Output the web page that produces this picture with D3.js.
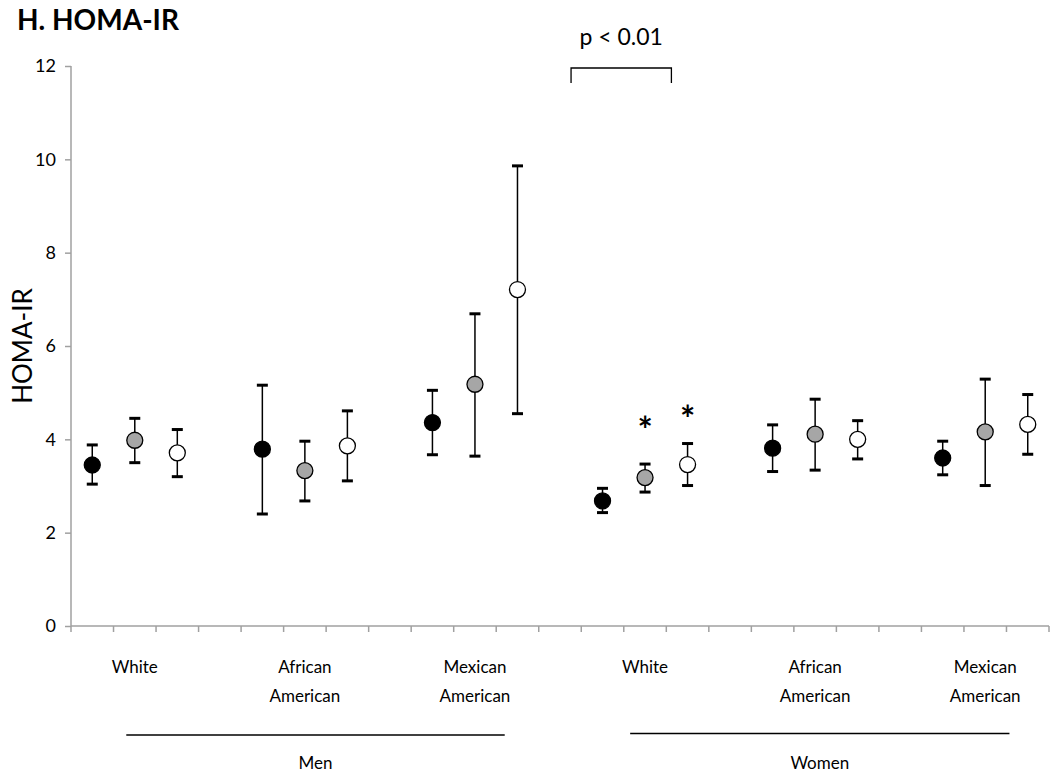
<!DOCTYPE html>
<html><head><meta charset="utf-8">
<script src="https://cdn.jsdelivr.net/npm/d3@7"></script>
<style>body{margin:0;background:#fff}svg{display:block}text{font-family:Lato,"Open Sans",sans-serif}</style>
</head><body>
<svg id="c" width="1050" height="774"></svg>
<script>
// Data
const slots = ["MW-1","MW-2","MW-3","gap1","MA-1","MA-2","MA-3","gap2","MM-1","MM-2","MM-3","gap3",
               "WW-1","WW-2","WW-3","gap4","WA-1","WA-2","WA-3","gap5","WM-1","WM-2","WM-3"];
const pointSlots = ["MW-1","MW-2","MW-3","MA-1","MA-2","MA-3","MM-1","MM-2","MM-3",
                    "WW-1","WW-2","WW-3","WA-1","WA-2","WA-3","WM-1","WM-2","WM-3"];
const fills = ["#000000","#a6a6a6","#ffffff"];
const means = [3.45,3.98,3.71, 3.79,3.33,3.86, 4.36,5.18,7.21, 2.68,3.18,3.46, 3.81,4.11,4.00, 3.60,4.16,4.32];
const upper = [3.88,4.45,4.21, 5.16,3.96,4.61, 5.05,6.69,9.86, 2.95,3.47,3.91, 4.31,4.86,4.40, 3.96,5.29,4.96];
const lower = [3.04,3.50,3.20, 2.40,2.68,3.11, 3.67,3.64,4.55, 2.43,2.87,3.01, 3.31,3.34,3.58, 3.24,3.01,3.68];
const groupLabels = [["White"],["African","American"],["Mexican","American"],["White"],["African","American"],["Mexican","American"]];
const groupLabelSlots = ["MW-2","MA-2","MM-2","WW-2","WA-2","WM-2"];
const sexLabels = ["Men","Women"];
const sexSpan = [[1.3,10.2],[13.15,22.07]];   // in slot units
const starSlots = ["WW-2","WW-3"];
const starValues = [4.3,4.55];
const bracketSpan = [11.76,14.12];            // in slot units
const yTicks = [0,2,4,6,8,10,12];

const W=1050,H=774, m={l:71,t:66,r:1,b:148};
const svg=d3.select("#c");
const x=d3.scaleBand().domain(slots).range([m.l,W-m.r]).padding(0);
const xs=d3.scaleLinear().domain([0,slots.length]).range([m.l,W-m.r]);
const y=d3.scaleLinear().domain([0,12]).range([H-m.b,m.t]);
const axisColor="#a0a0a0";

// y axis
const ya=svg.append("g").attr("transform",`translate(${m.l},0)`)
  .call(d3.axisLeft(y).tickValues(yTicks).tickSize(6).tickPadding(9).tickFormat(d3.format("d")));
ya.select(".domain").attr("stroke",axisColor).attr("stroke-width",1.5).attr("d",`M0,${y(12)}V${y(0)}`);
ya.selectAll(".tick line").attr("stroke",axisColor).attr("stroke-width",1.5);
ya.selectAll(".tick text").attr("font-size",18).attr("fill","#000").style("font-family","Lato,sans-serif");

// x axis with ticks at band boundaries
const xa=svg.append("g").attr("transform",`translate(0,${y(0)})`);
xa.append("line").attr("x1",m.l).attr("x2",W-m.r).attr("stroke",axisColor).attr("stroke-width",1.5);
const bounds=slots.map(s=>x(s)).concat([x(slots[slots.length-1])+x.bandwidth()]);
xa.selectAll("line.t").data(bounds).join("line").attr("class","t")
  .attr("x1",d=>d).attr("x2",d=>d).attr("y1",0).attr("y2",6).attr("stroke",axisColor).attr("stroke-width",1.5);

// group labels
groupLabels.forEach((lines,i)=>{
  const cx=x(groupLabelSlots[i])+x.bandwidth()/2;
  const t=svg.append("text").attr("x",cx).attr("y",673).attr("text-anchor","middle").attr("font-size",17);
  lines.forEach((l,j)=>t.append("tspan").attr("x",cx).attr("dy",j?29:0).text(l));
});
// sex lines & labels
sexSpan.forEach((sp,i)=>{
  const x1=xs(sp[0]), x2=xs(sp[1]);
  svg.append("line").attr("x1",x1).attr("x2",x2).attr("y1",735-i*1.5).attr("y2",735-i*1.5).attr("stroke","#000").attr("stroke-width",1.3);
  svg.append("text").attr("x",(x1+x2)/2).attr("y",769).attr("text-anchor","middle").attr("font-size",17).text(sexLabels[i]);
});

// error bars and points
const g=svg.append("g");
pointSlots.forEach((s,i)=>{
  const cx=x(s)+x.bandwidth()/2;
  g.append("line").attr("x1",cx).attr("x2",cx).attr("y1",y(upper[i])).attr("y2",y(lower[i])).attr("stroke","#000").attr("stroke-width",1.5);
  [upper[i],lower[i]].forEach(v=>g.append("line").attr("x1",cx-5.5).attr("x2",cx+5.5).attr("y1",y(v)).attr("y2",y(v)).attr("stroke","#000").attr("stroke-width",3));
  g.append("circle").attr("cx",cx).attr("cy",y(means[i])).attr("r",8).attr("fill",fills[i%3]).attr("stroke","#000").attr("stroke-width",1.3);
});

// stars
starSlots.forEach((s,i)=>{
  svg.append("text").attr("x",x(s)+x.bandwidth()/2).attr("y",y(starValues[i])+18).attr("text-anchor","middle")
    .attr("font-size",36).attr("font-weight","bold").text("*");
});

// bracket
const bx1=xs(bracketSpan[0]), bx2=xs(bracketSpan[1]);
svg.append("path").attr("d",`M${bx1},83V68H${bx2}V83`).attr("fill","none").attr("stroke","#000").attr("stroke-width",1.3);
svg.append("text").attr("x",(bx1+bx2)/2).attr("y",45).attr("text-anchor","middle").attr("font-size",23).text("p < 0.01");

// titles
svg.append("text").attr("x",17).attr("y",30).attr("font-size",28).attr("font-weight","bold").text("H. HOMA-IR");
svg.append("text").attr("transform",`translate(32,${(y(0)+y(12))/2}) rotate(-90)`).attr("text-anchor","middle").attr("font-size",26).text("HOMA-IR");
</script>
</body></html>
